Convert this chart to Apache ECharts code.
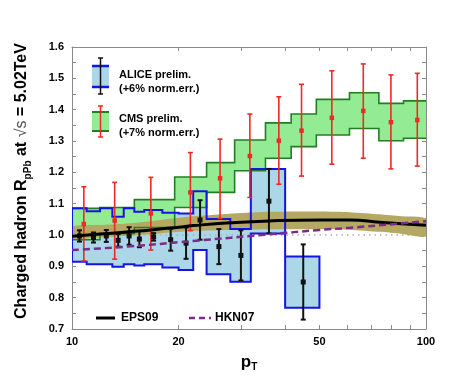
<!DOCTYPE html>
<html><head><meta charset="utf-8">
<script src="https://cdn.jsdelivr.net/npm/echarts@6/dist/echarts.min.js"></script>
<style>html,body{margin:0;padding:0;background:#fff}#c{width:474px;height:379px}</style>
</head><body><div id="c"></div>
<script>
// ---- ALICE preliminary ----
const aliceEdges = [10,11,12,13,14,15,16,18,20,22,24,28,32,40,50];
const alicePt    = [10.5,11.5,12.5,13.5,14.5,15.5,17,19,21,23,26,30,36,45];
const aliceVal   = [0.997,0.992,0.997,0.983,0.997,0.987,0.994,0.985,0.974,1.048,0.963,0.935,1.108,0.850];
const aliceStat  = [0.018,0.016,0.019,0.020,0.028,0.026,0.012,0.035,0.050,0.063,0.056,0.080,0.103,0.120];
const aliceSysLo = [0.915,0.907,0.907,0.899,0.907,0.903,0.907,0.896,0.888,0.952,0.875,0.851,1.005,0.768];
const aliceSysHi = [1.085,1.076,1.085,1.058,1.085,1.074,1.080,1.071,1.069,1.140,1.051,1.019,1.211,0.931];
// ---- CMS preliminary ----
const cmsEdges = [10,12,15,19.5,24,28.8,35.2,41.6,49,60.8,73.6,86.4,103.6];
const cmsPt    = [10.8,13.2,16.7,21.6,26.2,31.8,38.4,44.5,54.2,66.5,79.6,94.5];
const cmsVal   = [1.035,1.046,1.069,1.136,1.181,1.252,1.301,1.333,1.374,1.396,1.360,1.367];
const cmsErrLo = [0.917,0.923,0.952,1.014,1.053,1.120,1.162,1.188,1.226,1.245,1.211,1.220];
const cmsErrHi = [1.154,1.168,1.184,1.263,1.306,1.386,1.441,1.481,1.524,1.546,1.511,1.516];
const cmsSysLo = [0.985,1.005,1.024,1.088,1.136,1.205,1.245,1.282,1.319,1.340,1.301,1.309];
const cmsSysHi = [1.085,1.088,1.113,1.185,1.231,1.303,1.358,1.386,1.433,1.454,1.420,1.428];
// ---- EPS09 ----
const eps09Pt  = [10,12,14,17,20,22,28,36,50,61,74,85,100];
const eps09Val = [0.996,1.003,1.009,1.017,1.025,1.030,1.039,1.045,1.048,1.048,1.041,1.036,1.031];
const eps09Lo  = [0.988,0.993,0.997,1.003,1.010,1.013,1.016,1.018,1.018,1.016,1.010,1.004,0.995];
const eps09Hi  = [1.027,1.032,1.036,1.045,1.055,1.060,1.068,1.074,1.075,1.073,1.066,1.060,1.053];
// ---- HKN07 ----
const hknPt  = [10,14.3,22,36,50,61,100];
const hknVal = [0.952,0.963,0.981,1.002,1.016,1.023,1.044];
// ---- reference & ticks ----
const refLinePt = [10,100];
const refLineVal = [1.0,1.0];
const xLabelValues = [10,20,50,100];
const xTickValues = [20,30,40,50,60,70,80,90];

const FONT = 'Liberation Sans';
const AXC = '#8a8a8a';

function bandRender(edges, lo, hi, fill, stroke, lw) {
  return function (params, api) {
    if (params.dataIndex !== 0) return;
    const pts = [];
    for (let i = 0; i < lo.length; i++) {
      pts.push(api.coord([edges[i], hi[i]]));
      pts.push(api.coord([edges[i + 1], hi[i]]));
    }
    for (let i = lo.length - 1; i >= 0; i--) {
      pts.push(api.coord([edges[i + 1], lo[i]]));
      pts.push(api.coord([edges[i], lo[i]]));
    }
    return { type: 'polygon', shape: { points: pts },
      style: { fill: fill, stroke: stroke, lineWidth: lw, lineJoin: 'miter' } };
  };
}
function curveBandRender(xs, lo, hi, fill) {
  return function (params, api) {
    if (params.dataIndex !== 0) return;
    const pts = [];
    for (let i = 0; i < xs.length; i++) pts.push(api.coord([xs[i], hi[i]]));
    for (let i = xs.length - 1; i >= 0; i--) pts.push(api.coord([xs[i], lo[i]]));
    return { type: 'polygon', shape: { points: pts, smooth: 0.2 }, style: { fill: fill } };
  };
}
function errRender(color, lw, cap, sq) {
  return function (params, api) {
    const x = api.value(0), v = api.value(1), lo = api.value(2), hi = api.value(3);
    const pL = api.coord([x, lo]), pH = api.coord([x, hi]), p = api.coord([x, v]);
    const st = { stroke: color, lineWidth: lw };
    return { type: 'group', children: [
      { type: 'line', shape: { x1: pL[0], y1: pL[1], x2: pH[0], y2: pH[1] }, style: st },
      { type: 'line', shape: { x1: pL[0] - cap, y1: pL[1], x2: pL[0] + cap, y2: pL[1] }, style: st },
      { type: 'line', shape: { x1: pH[0] - cap, y1: pH[1], x2: pH[0] + cap, y2: pH[1] }, style: st },
      { type: 'rect', shape: { x: p[0] - sq / 2, y: p[1] - sq / 2, width: sq, height: sq }, style: { fill: color } }
    ] };
  };
}

const aliceBins = aliceSysLo.map((l, i) => [aliceEdges[i], l, aliceSysHi[i]]);
const cmsBins = cmsSysLo.map((l, i) => [cmsEdges[i], l, cmsSysHi[i]]);
const epsBandData = eps09Pt.map((p, i) => [p, eps09Lo[i], eps09Hi[i]]);

const chart = echarts.init(document.getElementById('c'), null, { renderer: 'canvas' });
const yAxisBase = {
  type: 'value', min: 0.7, max: 1.6, interval: 0.1,
  axisLine: { show: true, lineStyle: { color: AXC, width: 1 } },
  axisTick: { show: true, inside: true, length: 4, lineStyle: { color: AXC } },
  minorTick: { show: true, splitNumber: 2, length: 4, lineStyle: { color: AXC } },
  splitLine: { show: false }
};
const xAxisBase = {
  type: 'log', logBase: 10, min: 10, max: 100,
  axisLine: { show: true, lineStyle: { color: AXC, width: 1 } },
  axisTick: { show: true, inside: true, length: 4, customValues: xTickValues, lineStyle: { color: AXC } },
  splitLine: { show: false }
};
chart.setOption({
  animation: false,
  backgroundColor: '#fff',
  grid: { left: 72, right: 48, top: 47, bottom: 50 },
  xAxis: [
    Object.assign({}, xAxisBase, {
      position: 'bottom',
      axisLabel: { customValues: xLabelValues, color: '#000', fontWeight: 'bold', fontSize: 11, fontFamily: FONT, margin: 7 },
      name: 'p{sub|T}', nameLocation: 'middle', nameGap: 16,
      nameTextStyle: { color: '#000', fontWeight: 'bold', fontSize: 17, fontFamily: FONT, lineHeight: 20,
        rich: { sub: { fontSize: 10, fontWeight: 'bold', fontFamily: FONT, color: '#000', verticalAlign: 'bottom', lineHeight: 12 } } }
    }),
    Object.assign({}, xAxisBase, { position: 'top', axisLabel: { show: false } })
  ],
  yAxis: [
    Object.assign({}, yAxisBase, {
      position: 'left',
      axisLabel: { formatter: v => v.toFixed(1), color: '#000', fontWeight: 'bold', fontSize: 11, fontFamily: FONT, margin: 8 },
      name: 'Charged hadron R{sub|pPb} at {rt|√s} = 5.02TeV', nameLocation: 'middle', nameRotate: 90, nameGap: 39,
      nameTextStyle: { color: '#000', fontWeight: 'bold', fontSize: 16, fontFamily: FONT, lineHeight: 22, padding: [0, 0, 0, 14],
        rich: {
          sub: { fontSize: 10, fontWeight: 'bold', fontFamily: FONT, color: '#000', verticalAlign: 'bottom', lineHeight: 13 },
          rt: { fontSize: 16, fontWeight: 'normal', fontFamily: FONT, color: '#555', lineHeight: 22 }
        } }
    }),
    Object.assign({}, yAxisBase, { position: 'right', axisLabel: { show: false } })
  ],
  series: [
    { type: 'custom', name: 'ALICE fill', clip: true, data: aliceBins, encode: { x: 0, y: [1, 2] }, z: 1,
      renderItem: bandRender(aliceEdges, aliceSysLo, aliceSysHi, '#abd7e8', null, 0) },
    { type: 'custom', name: 'CMS fill', clip: true, data: cmsBins, encode: { x: 0, y: [1, 2] }, z: 2,
      renderItem: bandRender(cmsEdges, cmsSysLo, cmsSysHi, '#93ec93', null, 0) },
    { type: 'line', name: 'ref', data: refLinePt.map((p, i) => [p, refLineVal[i]]), symbol: 'none', z: 3,
      lineStyle: { color: '#b0b0b0', width: 1.5, type: [1.5, 4] } },
    { type: 'custom', name: 'EPS09 band', clip: true, data: epsBandData, encode: { x: 0, y: [1, 2] }, z: 4,
      renderItem: curveBandRender(eps09Pt, eps09Lo, eps09Hi, '#b5a862') },
    { type: 'custom', name: 'CMS outline', clip: true, data: cmsBins, encode: { x: 0, y: [1, 2] }, z: 5,
      renderItem: bandRender(cmsEdges, cmsSysLo, cmsSysHi, 'none', '#237d23', 1.6) },
    { type: 'custom', name: 'ALICE outline', clip: true, data: aliceBins, encode: { x: 0, y: [1, 2] }, z: 6,
      renderItem: bandRender(aliceEdges, aliceSysLo, aliceSysHi, 'none', '#1414e6', 2) },
    { type: 'custom', name: 'CMS', clip: true, z: 7,
      data: cmsPt.map((p, i) => [p, cmsVal[i], cmsErrLo[i], cmsErrHi[i]]), encode: { x: 0, y: [1, 2, 3] },
      renderItem: errRender('#ee2a24', 1.6, 2.5, 4.5) },
    { type: 'custom', name: 'ALICE', clip: true, z: 8,
      data: alicePt.map((p, i) => [p, aliceVal[i], aliceVal[i] - aliceStat[i], aliceVal[i] + aliceStat[i]]), encode: { x: 0, y: [1, 2, 3] },
      renderItem: errRender('#111', 2, 2.5, 5) },
    { type: 'line', name: 'EPS09', data: eps09Pt.map((p, i) => [p, eps09Val[i]]), smooth: true, symbol: 'none', z: 9,
      lineStyle: { color: '#000', width: 3 } },
    { type: 'line', name: 'HKN07', data: hknPt.map((p, i) => [p, hknVal[i]]), smooth: true, symbol: 'none', z: 10,
      lineStyle: { color: '#7e2a88', width: 2.5, type: [7, 4] } }
  ],
  graphic: [
    { type: 'rect', shape: { x: 92, y: 66, width: 17, height: 21 }, style: { fill: '#abd7e8' } },
    { type: 'line', shape: { x1: 92, y1: 66, x2: 109, y2: 66 }, style: { stroke: '#1414e6', lineWidth: 2.5 } },
    { type: 'line', shape: { x1: 92, y1: 87, x2: 109, y2: 87 }, style: { stroke: '#1414e6', lineWidth: 2.5 } },
    { type: 'line', shape: { x1: 100.5, y1: 58, x2: 100.5, y2: 94 }, style: { stroke: '#111', lineWidth: 1.5 } },
    { type: 'line', shape: { x1: 98, y1: 58, x2: 103, y2: 58 }, style: { stroke: '#111', lineWidth: 1.5 } },
    { type: 'line', shape: { x1: 98, y1: 94, x2: 103, y2: 94 }, style: { stroke: '#111', lineWidth: 1.5 } },
    { type: 'text', x: 119, y: 75, style: { text: 'ALICE prelim.', font: 'bold 11px "Liberation Sans"', fill: '#000', textVerticalAlign: 'middle' } },
    { type: 'text', x: 119, y: 89, style: { text: '(+6% norm.err.)', font: 'bold 11px "Liberation Sans"', fill: '#000', textVerticalAlign: 'middle' } },

    { type: 'rect', shape: { x: 92, y: 112, width: 17, height: 19 }, style: { fill: '#93ec93' } },
    { type: 'line', shape: { x1: 92, y1: 112, x2: 109, y2: 112 }, style: { stroke: '#237d23', lineWidth: 2 } },
    { type: 'line', shape: { x1: 92, y1: 131, x2: 109, y2: 131 }, style: { stroke: '#237d23', lineWidth: 2 } },
    { type: 'line', shape: { x1: 100.5, y1: 106, x2: 100.5, y2: 137 }, style: { stroke: '#ee2a24', lineWidth: 1.5 } },
    { type: 'line', shape: { x1: 98, y1: 106, x2: 103, y2: 106 }, style: { stroke: '#ee2a24', lineWidth: 1.5 } },
    { type: 'line', shape: { x1: 98, y1: 137, x2: 103, y2: 137 }, style: { stroke: '#ee2a24', lineWidth: 1.5 } },
    { type: 'text', x: 119, y: 119, style: { text: 'CMS prelim.', font: 'bold 11px "Liberation Sans"', fill: '#000', textVerticalAlign: 'middle' } },
    { type: 'text', x: 119, y: 133, style: { text: '(+7% norm.err.)', font: 'bold 11px "Liberation Sans"', fill: '#000', textVerticalAlign: 'middle' } },

    { type: 'line', shape: { x1: 96, y1: 318, x2: 115, y2: 318 }, style: { stroke: '#000', lineWidth: 3 } },
    { type: 'text', x: 121, y: 318, style: { text: 'EPS09', font: 'bold 12px "Liberation Sans"', fill: '#000', textVerticalAlign: 'middle' } },
    { type: 'line', shape: { x1: 189, y1: 318, x2: 211, y2: 318 }, style: { stroke: '#7e2a88', lineWidth: 2.5, lineDash: [6, 4] } },
    { type: 'text', x: 215, y: 318, style: { text: 'HKN07', font: 'bold 12px "Liberation Sans"', fill: '#000', textVerticalAlign: 'middle' } }
  ]
});
</script>
</body></html>
